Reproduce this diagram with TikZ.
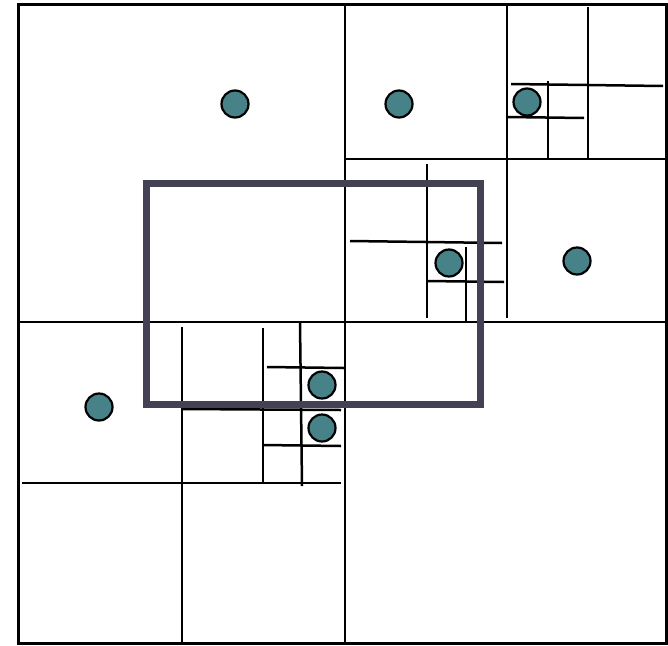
\documentclass[tikz,border=0pt]{standalone}
\definecolor{dotfill}{RGB}{70,130,135}
\definecolor{rangebox}{RGB}{66,66,84}
\tikzset{
  grid/.style={line width=2.5pt, black},
  outer/.style={line width=3pt, black},
  pt/.style={circle, draw=black, line width=2.2pt, fill=dotfill, minimum size=27pt, inner sep=0pt},
  query/.style={line width=7pt, draw=rangebox}
}
\begin{document}
\begin{tikzpicture}[x=1pt,y=-1pt]
\useasboundingbox (0,0) rectangle (668,645);
% outer square and first split
\draw[outer] (18,4) rectangle (666,643);
\draw[grid] (345,4) -- (345,643);
\draw[grid] (18,322) -- (666,322);
% top-right quadrant
\draw[grid] (345,159) -- (666,159);
\draw[grid] (507,4) -- (507,318);
\draw[grid] (588,7) -- (588,159);
\draw[grid] (511,84) -- (663,86);
\draw[grid] (548,81) -- (548,159);
\draw[grid] (507,117) -- (584,118);
% lower-left cell of top-right quadrant
\draw[grid] (427,164) -- (427,318);
\draw[grid] (350,241) -- (502,243);
\draw[grid] (466,247) -- (466,322);
\draw[grid] (427,281) -- (504,282);
% bottom-left quadrant
\draw[grid] (182,327) -- (182,643);
\draw[grid] (22,483) -- (341,483);
\draw[grid] (263,328) -- (263,482);
\draw[grid] (300,323) -- (302,486);
\draw[grid] (267,367) -- (344,368);
\draw[grid] (182,409) -- (341,410);
\draw[grid] (263,445) -- (341,446);
% query rectangle
\draw[query] (146,183) rectangle (480,404);
% points
\node[pt] (p1) at (235,104) {};
\node[pt] (p2) at (399,104) {};
\node[pt] (p3) at (527,102) {};
\node[pt] (p4) at (449,263) {};
\node[pt] (p5) at (577,261) {};
\node[pt] (p6) at (99,407) {};
\node[pt] (p7) at (322,385) {};
\node[pt] (p8) at (322,428) {};
\end{tikzpicture}
\end{document}
